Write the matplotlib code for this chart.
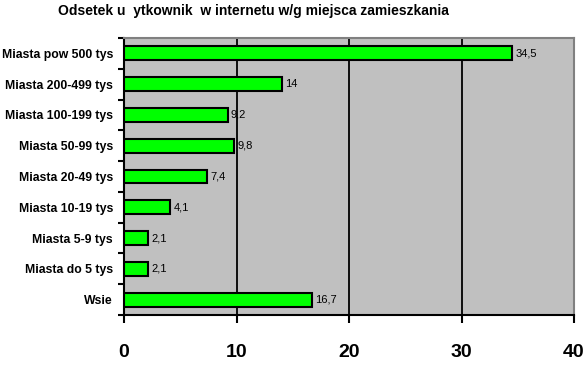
import matplotlib.pyplot as plt
import numpy as np

plt.rcParams['font.family'] = ['Liberation Sans', 'DejaVu Sans']

categories = ["Miasta pow 500 tys", "Miasta 200-499 tys", "Miasta 100-199 tys",
              "Miasta 50-99 tys", "Miasta 20-49 tys", "Miasta 10-19 tys",
              "Miasta 5-9 tys", "Miasta do 5 tys", "Wsie"]
values = [34.5, 14, 9.2, 9.8, 7.4, 4.1, 2.1, 2.1, 16.7]
value_labels = ["34,5", "14", "9,2", "9,8", "7,4", "4,1", "2,1", "2,1", "16,7"]
xticks = [0, 10, 20, 30, 40]

fig = plt.figure(figsize=(5.87, 3.65), dpi=100)
ax = fig.add_axes([124 / 587, 50 / 365, 450 / 587, 277 / 365])
ax.set_facecolor('#c0c0c0')

y = np.arange(len(categories))
ax.barh(y, values, height=0.45, color='#00ff00', edgecolor='black', linewidth=1.5, zorder=3)
for yi, v, lab in zip(y, values, value_labels):
    ax.text(v + 0.3, yi, lab, va='center', ha='left', fontsize=8, zorder=4)

ax.set_xlim(0, 40)
ax.set_ylim(len(categories) - 0.5, -0.5)
ax.set_xticks(xticks)
ax.set_xticklabels([str(t) for t in xticks], fontsize=14, fontweight='bold')
ax.tick_params(axis='x', length=6, width=1.5, pad=15, direction='out')
for xv in xticks[1:-1]:
    ax.axvline(xv, color='black', linewidth=1.3, zorder=2)

ax.set_yticks(y)
ax.set_yticklabels(categories, fontsize=8.8, fontweight='bold')
ax.tick_params(axis='y', length=0, pad=8)
ax.set_yticks(np.arange(-0.5, len(categories), 1), minor=True)
ax.tick_params(axis='y', which='minor', length=4, width=1.5, direction='out')

ax.spines['left'].set_linewidth(1.5)
ax.spines['bottom'].set_linewidth(1.5)
ax.spines['top'].set_color('#808080')
ax.spines['right'].set_color('#808080')
ax.spines['top'].set_linewidth(1.5)
ax.spines['right'].set_linewidth(1.5)

fig.text(253 / 587, 1 - 11 / 365, "Odsetek u  ytkownik  w internetu w/g miejsca zamieszkania",
         ha='center', va='center', fontsize=10, fontweight='bold')

fig.savefig('out.png', dpi=100)
